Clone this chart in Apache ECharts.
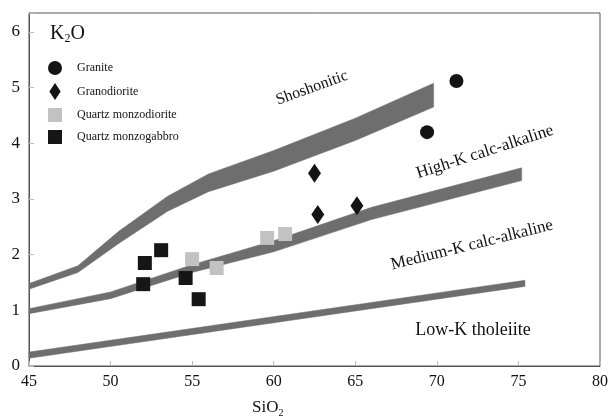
<!DOCTYPE html>
<html>
<head>
<meta charset="utf-8">
<script src="https://cdn.jsdelivr.net/npm/echarts@6/dist/echarts.min.js"></script>
<style>
  html, body { margin: 0; padding: 0; background: #fff; }
  #chart { width: 611px; height: 418px; }
</style>
</head>
<body>
<div id="chart"></div>
<script>
// Sample compositions (SiO2 wt%, K2O wt%)
const granite = [[71.2, 5.12], [69.4, 4.2]];
const granodiorite = [[62.5, 3.46], [62.7, 2.72], [65.1, 2.88]];
const quartzMonzodiorite = [[55.0, 1.92], [56.5, 1.76], [59.6, 2.3], [60.7, 2.37]];
const quartzMonzogabbro = [[52.1, 1.85], [53.1, 2.08], [52.0, 1.47], [54.6, 1.58], [55.4, 1.2]];

// Boundary bands between the K2O series fields (upper and lower edge of each band)
const shoshoniticUpper = [[45, 1.48], [48, 1.8], [50.5, 2.42], [53.5, 3.05], [56, 3.45], [60, 3.87], [65, 4.45], [69.8, 5.08]];
const shoshoniticLower = [[45, 1.38], [48, 1.68], [50.5, 2.2], [53.5, 2.78], [56, 3.13], [60, 3.5], [65, 4.05], [69.8, 4.65]];
const highKUpper = [[45, 1.03], [50, 1.33], [55, 1.82], [60, 2.25], [66, 2.85], [75.2, 3.56]];
const highKLower = [[45, 0.94], [50, 1.21], [55, 1.68], [60, 2.05], [66, 2.63], [75.2, 3.33]];
const lowKUpper = [[45, 0.25], [75.4, 1.54]];
const lowKLower = [[45, 0.14], [75.4, 1.43]];

const xTicks = { min: 45, max: 80, step: 5 };
const yTicks = { min: 0, max: 6, step: 1 };

const serif = 'Liberation Serif';

function bandSeries(upper, lower) {
  return {
    type: 'custom',
    coordinateSystem: 'cartesian2d',
    silent: true,
    z: 1,
    data: [[upper[0][0], upper[0][1]]],
    renderItem: function (params, api) {
      const pts = upper.concat(lower.slice().reverse()).map(p => api.coord(p));
      return {
        type: 'polygon',
        shape: { points: pts, smooth: 0 },
        style: { fill: '#6e6e6e', stroke: '#6e6e6e', lineWidth: 0.5 }
      };
    }
  };
}

const chart = echarts.init(document.getElementById('chart'), null, { renderer: 'canvas' });

chart.setOption({
  animation: false,
  backgroundColor: '#ffffff',
  textStyle: { fontFamily: serif },
  grid: {
    left: 29, right: 4, top: 13, bottom: 52,
    show: true, borderColor: '#555', borderWidth: 1
  },
  legend: {
    orient: 'vertical',
    left: 43, top: 56,
    itemWidth: 14, itemHeight: 17, itemGap: 8,
    symbolKeepAspect: true,
    itemStyle: { opacity: 1 },
    textStyle: { fontFamily: serif, fontSize: 12, color: '#111', padding: [0, 0, 0, 10] },
    data: [
      { name: 'Granite', icon: 'circle' },
      { name: 'Granodiorite', icon: 'path://M6,0L12,9L6,18L0,9Z' },
      { name: 'Quartz monzodiorite', icon: 'path://M0,0H10V10H0Z' },
      { name: 'Quartz monzogabbro', icon: 'path://M0,0H10V10H0Z' }
    ]
  },
  xAxis: {
    type: 'value',
    min: xTicks.min, max: xTicks.max, interval: xTicks.step,
    axisLine: { show: true, lineStyle: { color: '#555', width: 1 } },
    axisTick: { show: true, inside: true, length: 5, lineStyle: { color: '#bbb' } },
    splitLine: { show: false },
    axisLabel: { fontFamily: serif, fontSize: 16, color: '#111', margin: 8 }
  },
  yAxis: {
    type: 'value',
    min: yTicks.min, max: 6.34, interval: yTicks.step,
    axisLine: { show: true, lineStyle: { color: '#555', width: 1 } },
    axisTick: { show: true, inside: true, length: 5, lineStyle: { color: '#bbb' } },
    splitLine: { show: false },
    axisLabel: {
      fontFamily: serif, fontSize: 17, color: '#111', margin: 9,
      formatter: v => (Number.isInteger(v) && v <= yTicks.max ? String(v) : '')
    }
  },
  series: [
    bandSeries(shoshoniticUpper, shoshoniticLower),
    bandSeries(highKUpper, highKLower),
    bandSeries(lowKUpper, lowKLower),
    {
      name: 'Granite', type: 'scatter', z: 5,
      symbol: 'circle', symbolSize: 14,
      itemStyle: { color: '#141414', opacity: 1 },
      data: granite
    },
    {
      name: 'Granodiorite', type: 'scatter', z: 5,
      symbol: 'diamond', symbolSize: [13, 19],
      itemStyle: { color: '#141414', opacity: 1 },
      data: granodiorite
    },
    {
      name: 'Quartz monzodiorite', type: 'scatter', z: 5,
      symbol: 'rect', symbolSize: 14,
      itemStyle: { color: '#c2c2c2', opacity: 1 },
      data: quartzMonzodiorite
    },
    {
      name: 'Quartz monzogabbro', type: 'scatter', z: 5,
      symbol: 'rect', symbolSize: 14,
      itemStyle: { color: '#161616', opacity: 1 },
      data: quartzMonzogabbro
    }
  ],
  graphic: [
    {
      type: 'text', left: 50, top: 24, z: 10,
      style: {
        text: 'K{sub|2}O', fill: '#111', font: '20px "Liberation Serif"',
        rich: { sub: { fontSize: 12, fontFamily: serif, verticalAlign: 'bottom', padding: [10, 0, 0, 0] } }
      }
    },
    {
      type: 'text', x: 312, y: 88, rotation: 20 * Math.PI / 180, z: 10,
      style: { text: 'Shoshonitic', fill: '#111', font: '16px "Liberation Serif"', align: 'center', verticalAlign: 'middle' }
    },
    {
      type: 'text', x: 485, y: 152, rotation: 18 * Math.PI / 180, z: 10,
      style: { text: 'High-K calc-alkaline', fill: '#111', font: '17px "Liberation Serif"', align: 'center', verticalAlign: 'middle' }
    },
    {
      type: 'text', x: 472, y: 245, rotation: 14 * Math.PI / 180, z: 10,
      style: { text: 'Medium-K calc-alkaline', fill: '#111', font: '17px "Liberation Serif"', align: 'center', verticalAlign: 'middle' }
    },
    {
      type: 'text', x: 473, y: 330, z: 10,
      style: { text: 'Low-K tholeiite', fill: '#111', font: '18px "Liberation Serif"', align: 'center', verticalAlign: 'middle' }
    },
    {
      type: 'text', x: 252, y: 398, z: 10,
      style: {
        text: 'SiO{sub|2}', fill: '#111', font: '17px "Liberation Serif"',
        rich: { sub: { fontSize: 10, fontFamily: serif, padding: [10, 0, 0, 0] } }
      }
    }
  ]
});
</script>
</body>
</html>
